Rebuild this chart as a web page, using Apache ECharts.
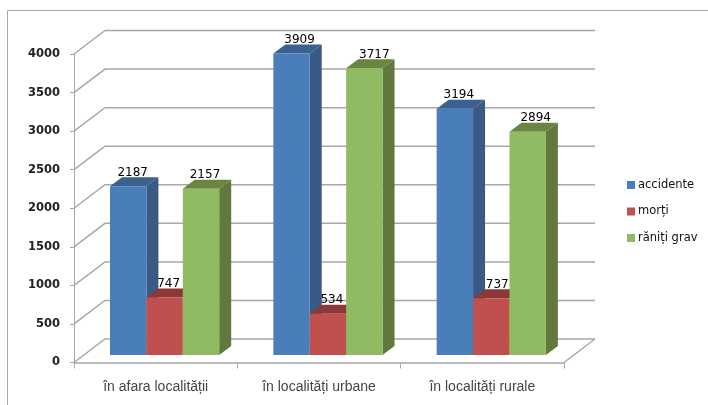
<!DOCTYPE html>
<html>
<head>
<meta charset="utf-8">
<style>html,body{margin:0;padding:0;background:#fff}#c{width:708px;height:405px}</style>
<script src="https://cdn.jsdelivr.net/npm/echarts@6/dist/echarts.min.js"></script>
</head>
<body>
<div id="c"></div>
<script>
const categories = ['în afara localității', 'în localități urbane', 'în localități rurale'];
const accidente = [2187, 3909, 3194];
const morti = [747, 534, 737];
const ranitiGrav = [2157, 3717, 2894];
const yTicks = [0, 500, 1000, 1500, 2000, 2500, 3000, 3500, 4000];

const WALL_DX = 31, WALL_DY = -23.5;
const BAR_DX = 12, BAR_DY = -9, BASE_LIFT = 7.5;
const GROUP_START = 36 / 163.33, BAR_RATIO = 36.4 / 163.33;
const LINE = '#a6a8ab';

const chart = echarts.init(document.getElementById('c'), null, {renderer: 'canvas'});

function wallItem(params, api) {
  const p = api.coord([0, api.value(1)]);
  const cs = params.coordSys;
  const x0 = cs.x, x1 = cs.x + cs.width, y = p[1];
  const style = {stroke: LINE, lineWidth: 1.5, fill: null};
  const kids = [
    {type: 'polyline', shape: {points: [[x0, y], [x0 + WALL_DX, y + WALL_DY], [x1 + WALL_DX, y + WALL_DY]]}, style}
  ];
  if (api.value(1) === 0) {
    kids.push({type: 'line', shape: {x1: x1, y1: y, x2: x1 + WALL_DX, y2: y + WALL_DY}, style});
  }
  return {type: 'group', children: kids};
}

function barSeries(name, values, idx, front, side, top, nudge) {
  return {
    name, type: 'custom', z: 3 + idx,
    itemStyle: {color: front},
    data: values.map((v, i) => [i, v]),
    encode: {x: 0, y: 1},
    renderItem(params, api) {
      const i = api.value(0), v = api.value(1);
      const catW = api.size([1, 0])[0];
      const c = api.coord([i, v]);
      const base = api.coord([i, 0])[1] - BASE_LIFT;
      const w = catW * BAR_RATIO;
      const l = c[0] - catW / 2 + catW * GROUP_START + idx * w;
      const r = l + w, t = c[1] - BASE_LIFT;
      return {type: 'group', children: [
        {type: 'polygon', shape: {points: [[r, t], [r + BAR_DX, t + BAR_DY], [r + BAR_DX, base + BAR_DY], [r, base]]}, style: {fill: side}},
        {type: 'polygon', shape: {points: [[l, t], [l + BAR_DX, t + BAR_DY], [r + BAR_DX, t + BAR_DY], [r, t]]}, style: {fill: top}},
        {type: 'rect', shape: {x: l, y: t, width: w, height: base - t}, style: {fill: front}},
        {type: 'text', z2: 50, style: {
          text: String(v), x: (l + r) / 2 + nudge[i], y: t - 13.5,
          align: 'center', verticalAlign: 'middle',
          font: '12px "DejaVu Sans"', fill: '#000'
        }}
      ]};
    }
  };
}

chart.setOption({
  animation: false,
  backgroundColor: '#fff',
  graphic: [
    {type: 'polyline', silent: true, shape: {points: [[7.5, 405], [7.5, 10.5], [708, 10.5]]}, style: {stroke: '#a8a8a8', lineWidth: 1, fill: null}}
  ],
  grid: {left: 74, right: 144, top: 54, bottom: 42.5, containLabel: false},
  legend: {
    orient: 'vertical', left: 622, top: 174, icon: 'rect',
    itemWidth: 8, itemHeight: 8, itemGap: 14.5,
    data: ['accidente', 'morți', 'răniți grav'],
    textStyle: {fontFamily: 'DejaVu Sans', fontSize: 11.5, color: '#111', padding: [0, 0, 0, -2]}
  },
  xAxis: {
    type: 'category', data: categories,
    axisLine: {lineStyle: {color: LINE, width: 1.5}},
    axisTick: {show: true, length: 6, alignWithLabel: false, lineStyle: {color: LINE, width: 1}},
    axisLabel: {margin: 18, fontFamily: 'Liberation Sans', fontSize: 14, color: '#444'}
  },
  yAxis: {
    type: 'value', min: 0, max: 4000, interval: 500,
    splitLine: {show: false},
    axisLine: {show: true, lineStyle: {color: LINE, width: 1}},
    axisTick: {show: true, length: 4, lineStyle: {color: LINE, width: 1}},
    axisLabel: {margin: 14, formatter: v => String(v), fontFamily: 'DejaVu Sans', fontWeight: 'bold', fontSize: 11.5, color: '#222'}
  },
  series: [
    {name: 'walls', type: 'custom', z: 1, silent: true, data: yTicks.map(v => [0, v]), encode: {x: 0, y: 1}, renderItem: wallItem},
    barSeries('accidente', accidente, 0, '#4a7ebb', '#385a85', '#3a6190', [4.5, 8, 4]),
    barSeries('morți', morti, 1, '#c0504d', '#8c3836', '#8c3836', [4, 4, 6]),
    barSeries('răniți grav', ranitiGrav, 2, '#90bb62', '#61783e', '#6a8442', [4, 10, 8])
  ]
});
</script>
</body>
</html>
